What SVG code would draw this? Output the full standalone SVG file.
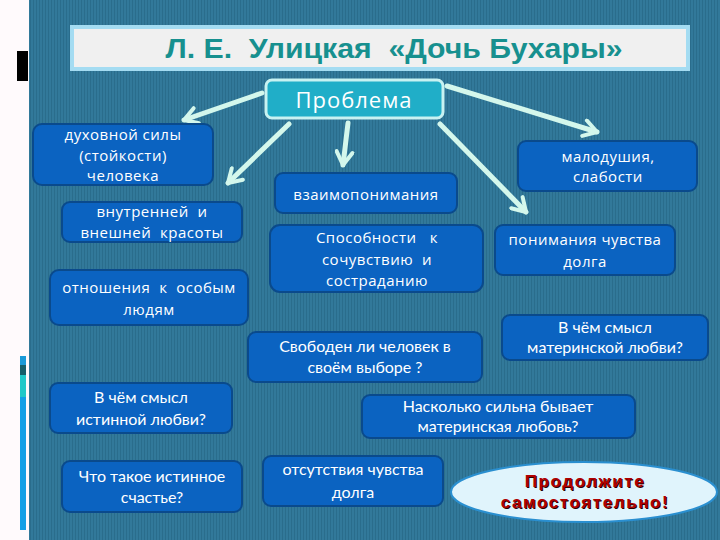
<svg xmlns="http://www.w3.org/2000/svg" width="720" height="540" viewBox="0 0 720 540">
<defs>
<pattern id="stripes" width="3" height="10" patternUnits="userSpaceOnUse">
<rect width="3" height="10" fill="#32799a"/>
<rect width="1" height="10" fill="#2a6d8c"/>
</pattern>
<marker id="head" viewBox="0 0 20 20" refX="17" refY="10" markerWidth="20" markerHeight="20" markerUnits="userSpaceOnUse" orient="auto">
<path d="M4,2 L17,10 L4,18" fill="none" stroke="#d4f7ec" stroke-width="4" stroke-linecap="round" stroke-linejoin="round"/>
</marker>
<style>
.box{fill:#0b63c1;stroke:#0a4a8c;stroke-width:2}
.w{fill:#ffffff;font-family:"Open Sans","DejaVu Sans",sans-serif;font-size:15px;text-anchor:middle;letter-spacing:0.5px}
.c{fill:#ffffff;font-family:Lato,"Open Sans",sans-serif;font-size:16px;text-anchor:middle}
.arr{stroke:#d4f7ec;stroke-width:5;fill:none;stroke-linecap:round;marker-end:url(#head)}
.red{font-family:"Liberation Sans",Arial,sans-serif;font-weight:bold;font-size:17px;text-anchor:middle;letter-spacing:1.6px}
</style>
</defs>
<rect x="0" y="0" width="720" height="540" fill="#fffafc"/>
<rect x="29" y="0" width="691" height="540" fill="url(#stripes)"/>
<g id="decor">
<rect x="17" y="51" width="11" height="30" fill="#000000"/>
<rect x="20" y="356" width="6" height="9" fill="#1a9ad8"/>
<rect x="20" y="365" width="6" height="10" fill="#155f6a"/>
<rect x="20" y="375" width="6" height="22" fill="#20c8c8"/>
<rect x="20" y="397" width="6" height="133" fill="#12a0e6"/>
</g>
<g id="title">
<rect x="72" y="27" width="616" height="42" fill="#f0f0f0" stroke="#a4dcf2" stroke-width="4"/>
<text x="394" y="58" font-family="'Liberation Sans',Arial,sans-serif" font-weight="bold" font-size="27" fill="#17908f" text-anchor="middle" textLength="457" lengthAdjust="spacingAndGlyphs" xml:space="preserve">Л. Е.  Улицкая  «Дочь Бухары»</text>
</g>
<g id="connectors">
<line class="arr" x1="262" y1="93" x2="184" y2="120"/>
<line class="arr" x1="289" y1="124" x2="228" y2="183"/>
<line class="arr" x1="348" y1="123" x2="343" y2="165"/>
<line class="arr" x1="440" y1="124" x2="526" y2="212"/>
<line class="arr" x1="447" y1="86" x2="597" y2="132"/>
</g>
<g id="problema">
<rect x="266" y="80" width="177" height="38" rx="6" fill="#20aec8" stroke="#c8f2f2" stroke-width="3"/>
<text x="354" y="108" font-family="'Open Sans',sans-serif" font-size="22" fill="#ffffff" text-anchor="middle" letter-spacing="1">Проблема</text>
</g>
<g id="n1">
<rect class="box" x="33" y="124" width="180" height="61" rx="9"/>
<text class="w" x="123" y="140">духовной  силы</text>
<text class="w" x="123" y="161">(стойкости)</text>
<text class="w" x="123" y="181">человека</text>
</g>
<g id="n2">
<rect class="box" x="62" y="202" width="180" height="40" rx="8"/>
<text class="w" x="152" y="217" xml:space="preserve">внутренней  и</text>
<text class="w" x="152" y="238" xml:space="preserve">внешней  красоты</text>
</g>
<g id="n3">
<rect class="box" x="50" y="270" width="198" height="55" rx="9"/>
<text class="w" x="149" y="293" xml:space="preserve">отношения  к  особым</text>
<text class="w" x="149" y="315">людям</text>
</g>
<g id="n4">
<rect class="box" x="275" y="173" width="182" height="40" rx="8"/>
<text class="w" x="366" y="200">взаимопонимания</text>
</g>
<g id="n5">
<rect class="box" x="270" y="225" width="213" height="67" rx="10"/>
<text class="w" x="377" y="243" xml:space="preserve">Способности   к</text>
<text class="w" x="377" y="265" xml:space="preserve">сочувствию  и</text>
<text class="w" x="377" y="286">состраданию</text>
</g>
<g id="n6">
<rect class="box" x="518" y="141" width="179" height="50" rx="8"/>
<text class="w" x="608" y="162">малодушия,</text>
<text class="w" x="608" y="182">слабости</text>
</g>
<g id="n7">
<rect class="box" x="495" y="225" width="180" height="50" rx="8"/>
<text class="w" x="585" y="245">понимания чувства</text>
<text class="w" x="585" y="267">долга</text>
</g>
<g id="n8">
<rect class="box" x="248" y="332" width="234" height="50" rx="8"/>
<text class="c" x="365" y="352">Свободен ли человек в</text>
<text class="c" x="365" y="373">своём выборе ?</text>
</g>
<g id="n9">
<rect class="box" x="502" y="315" width="206" height="45" rx="8"/>
<text class="c" x="605" y="333">В чём смысл</text>
<text class="c" x="605" y="353">материнской любви?</text>
</g>
<g id="n10">
<rect class="box" x="362" y="395" width="273" height="43" rx="8"/>
<text class="c" x="498" y="412">Насколько сильна бывает</text>
<text class="c" x="498" y="432">материнская любовь?</text>
</g>
<g id="n11">
<rect class="box" x="50" y="383" width="182" height="50" rx="8"/>
<text class="c" x="141" y="403">В чём смысл</text>
<text class="c" x="141" y="425">истинной любви?</text>
</g>
<g id="n12">
<rect class="box" x="62" y="461" width="180" height="51" rx="8"/>
<text class="c" x="152" y="482">Что такое истинное</text>
<text class="c" x="152" y="503">счастье?</text>
</g>
<g id="n13">
<rect class="box" x="263" y="456" width="180" height="50" rx="8"/>
<text class="c" x="353" y="475">отсутствия чувства</text>
<text class="c" x="353" y="498">долга</text>
</g>
<g id="n14">
<ellipse cx="584" cy="492" rx="133" ry="30" fill="#e0f4fc" stroke="#2a8fd0" stroke-width="2"/>
<text class="red" x="586" y="488" fill="#2a0000">Продолжите</text>
<text class="red" x="585" y="487" fill="#b00000">Продолжите</text>
<text class="red" x="586" y="509" fill="#2a0000">самостоятельно!</text>
<text class="red" x="585" y="508" fill="#b00000">самостоятельно!</text>
</g>
</svg>
